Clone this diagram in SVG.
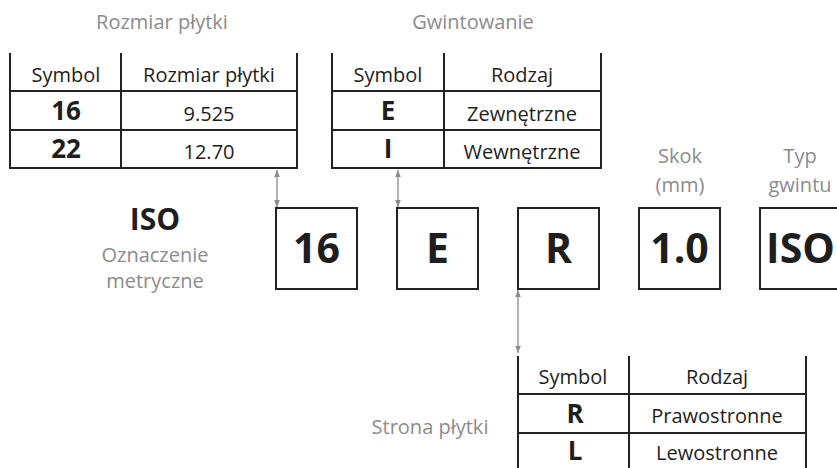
<svg xmlns="http://www.w3.org/2000/svg" width="837" height="468" viewBox="0 0 837 468">
<defs>
<style>
text{font-family:"Open Sans","Noto Sans","DejaVu Sans",sans-serif;text-anchor:middle}
.lbl{fill:#8c8c8c;font-size:20px}
.cell{fill:#1e1e1e;font-size:20px}
.sym{fill:#1e1e1e;font-size:26px;font-weight:bold}
.big{fill:#1e1e1e;font-size:41px;font-weight:bold}
.grid{stroke:#222;stroke-width:2;fill:none}
.box{stroke:#222;stroke-width:2;fill:#fff}
.conn{stroke:#8c8c8c;stroke-width:1.3;fill:none;marker-start:url(#ah);marker-end:url(#ah)}
</style>
<marker id="ah" viewBox="0 0 10 10" refX="10" refY="5" markerWidth="7" markerHeight="7" markerUnits="userSpaceOnUse" orient="auto-start-reverse">
<path d="M0,1 L10,5 L0,9 z" fill="#8c8c8c"/>
</marker>
</defs>
<g id="table-rozmiar">
<text class="lbl" x="162" y="29">Rozmiar płytki</text>
<path class="grid" d="M10,53 V168 H297 V53 M121,53 V168 M10,91 H297 M10,130 H297"/>
<text class="cell" x="66" y="82">Symbol</text>
<text class="cell" x="209" y="82">Rozmiar płytki</text>
<text class="sym" x="66" y="120">16</text>
<text class="cell" x="209" y="121">9.525</text>
<text class="sym" x="66" y="158">22</text>
<text class="cell" x="209" y="159">12.70</text>
</g>
<g id="table-gwint">
<text class="lbl" x="473" y="29">Gwintowanie</text>
<path class="grid" d="M332,53 V168 H601 V53 M444,53 V168 M332,91 H601 M332,130 H601"/>
<text class="cell" x="388" y="82">Symbol</text>
<text class="cell" x="522" y="82">Rodzaj</text>
<text class="sym" x="388" y="120">E</text>
<text class="cell" x="522" y="121">Zewnętrzne</text>
<text class="sym" x="388" y="158">I</text>
<text class="cell" x="522" y="159">Wewnętrzne</text>
</g>
<g id="table-strona">
<text class="lbl" x="430" y="434">Strona płytki</text>
<path class="grid" d="M518,356 V470 M806,356 V470 M629,356 V470 M518,394 H806 M518,433 H806"/>
<text class="cell" x="573" y="384">Symbol</text>
<text class="cell" x="717" y="384">Rodzaj</text>
<text class="sym" x="575" y="423">R</text>
<text class="cell" x="717" y="423">Prawostronne</text>
<text class="sym" x="575" y="460">L</text>
<text class="cell" x="717" y="460">Lewostronne</text>
</g>
<g id="iso-label">
<text x="155" y="230" style="fill:#1e1e1e;font-size:30px;font-weight:bold">ISO</text>
<text class="lbl" x="155" y="262">Oznaczenie</text>
<text class="lbl" x="155" y="288">metryczne</text>
</g>
<g id="box-16"><rect class="box" x="276" y="208" width="81" height="81"/><text class="big" x="316.5" y="263">16</text></g>
<g id="box-E"><rect class="box" x="397" y="208" width="81" height="81"/><text class="big" x="437.5" y="263">E</text></g>
<g id="box-R"><rect class="box" x="518" y="208" width="81" height="81"/><text class="big" x="558.5" y="263">R</text></g>
<g id="box-10"><rect class="box" x="639" y="208" width="81" height="81"/><text class="big" x="679.5" y="263">1.0</text></g>
<g id="box-ISO"><rect class="box" x="760" y="208" width="81" height="81"/><text class="big" x="800.5" y="263">ISO</text></g>
<g id="skok-label"><text class="lbl" x="680" y="163">Skok</text><text class="lbl" x="680" y="192">(mm)</text></g>
<g id="typ-label"><text class="lbl" x="800" y="163">Typ</text><text class="lbl" x="800" y="192">gwintu</text></g>
<g id="connectors">
<line class="conn" x1="277" y1="170" x2="277" y2="207"/>
<line class="conn" x1="398" y1="170" x2="398" y2="207"/>
<line class="conn" x1="518" y1="290" x2="518" y2="353"/>
</g>
</svg>
